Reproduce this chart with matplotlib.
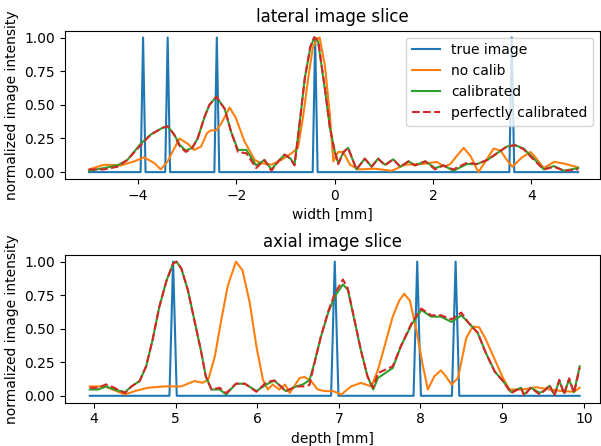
import numpy as np
import matplotlib
matplotlib.use("Agg")
import matplotlib.pyplot as plt

# ---- lateral slice (width in mm) ----
lat_spikes = [-3.9, -3.4, -2.4, -0.4, 3.6]
lat_range = [-5.0, 4.95]

lat_cal_x = [-5.0, -4.7, -4.42, -4.22, -3.95, -3.74, -3.5, -3.4, -3.27, -3.15, -3.03, -2.9,
             -2.79, -2.65, -2.55, -2.41, -2.24, -2.11, -1.97, -1.8, -1.6, -1.43, -1.29, -1.15,
             -1.02, -0.9, -0.82, -0.72, -0.61, -0.5, -0.42, -0.34, -0.2, -0.1, 0.0, 0.07, 0.18,
             0.27, 0.44, 0.61, 0.75, 0.88, 1.02, 1.19, 1.33, 1.5, 1.63, 1.84, 2.04, 2.21, 2.41,
             2.69, 2.89, 3.1, 3.3, 3.5, 3.67, 3.84, 4.05, 4.25, 4.46, 4.66, 4.95]
lat_cal_y = [0.01, 0.03, 0.05, 0.09, 0.21, 0.28, 0.33, 0.34, 0.28, 0.2, 0.16, 0.18,
             0.25, 0.41, 0.5, 0.56, 0.47, 0.3, 0.165, 0.165, 0.05, 0.09, 0.02, 0.08,
             0.13, 0.1, 0.055, 0.35, 0.7, 0.92, 1.0, 0.97, 0.61, 0.33, 0.15, 0.067, 0.15,
             0.18, 0.02, 0.1, 0.04, 0.1, 0.055, 0.095, 0.04, 0.08, 0.05, 0.08, 0.03, 0.05, 0.01,
             0.06, 0.06, 0.09, 0.14, 0.19, 0.2, 0.175, 0.1, 0.02, 0.045, 0.01, 0.03]
lat_perf_y = [0.02, 0.02, 0.04, 0.09, 0.2, 0.28, 0.33, 0.34, 0.28, 0.19, 0.15, 0.18,
              0.25, 0.41, 0.5, 0.56, 0.47, 0.3, 0.15, 0.14, 0.03, 0.09, 0.01, 0.08,
              0.13, 0.1, 0.05, 0.35, 0.7, 0.93, 1.0, 0.98, 0.62, 0.33, 0.15, 0.06, 0.15,
              0.18, 0.02, 0.1, 0.04, 0.1, 0.05, 0.095, 0.04, 0.08, 0.05, 0.08, 0.02, 0.05, 0.02,
              0.07, 0.06, 0.09, 0.14, 0.19, 0.2, 0.17, 0.09, 0.02, 0.04, 0.01, 0.02]

lat_nocal_x = [-5.0, -4.69, -4.35, -4.08, -3.88, -3.67, -3.54, -3.4, -3.16, -2.99, -2.86,
               -2.72, -2.6, -2.52, -2.41, -2.31, -2.14, -2.01, -1.84, -1.63, -1.5, -1.29,
               -1.09, -0.88, -0.75, -0.65, -0.54, -0.45, -0.37, -0.31, -0.2, -0.1, -0.03,
               0.07, 0.17, 0.31, 0.48, 0.82, 1.16, 1.43, 1.77, 2.07, 2.24, 2.35, 2.48, 2.62,
               2.76, 2.92, 3.1, 3.23, 3.37, 3.5, 3.61, 3.81, 3.98, 4.08, 4.25, 4.46, 4.66, 4.95]
lat_nocal_y = [0.02, 0.055, 0.05, 0.08, 0.11, 0.067, 0.02, 0.08, 0.25, 0.21, 0.165,
               0.19, 0.29, 0.31, 0.31, 0.36, 0.48, 0.4, 0.23, 0.09, 0.067, 0.055,
               0.09, 0.14, 0.18, 0.4, 0.7, 0.92, 0.99, 1.0, 0.79, 0.42, 0.08,
               0.15, 0.15, 0.055, 0.02, 0.025, 0.01, 0.055, 0.06, 0.076, 0.04, 0.06, 0.12, 0.18,
               0.12, 0.0, 0.1, 0.175, 0.16, 0.09, 0.04, 0.11, 0.15, 0.11, 0.03, 0.076, 0.064, 0.035]

# ---- axial slice (depth in mm) ----
ax_spikes = [4.97, 6.95, 7.96, 8.43]
ax_range = [3.95, 9.95]

ax_cal_x = [3.95, 4.05, 4.15, 4.25, 4.38, 4.46, 4.56, 4.64, 4.72, 4.8, 4.89, 4.97, 5.01,
            5.07, 5.15, 5.23, 5.31, 5.37, 5.44, 5.54, 5.62, 5.74, 5.85, 5.99, 6.11, 6.21,
            6.35, 6.48, 6.56, 6.64, 6.7, 6.78, 6.87, 6.95, 7.05, 7.11, 7.19, 7.27, 7.35,
            7.42, 7.48, 7.66, 7.76, 7.89, 8.01, 8.13, 8.25, 8.38, 8.5, 8.58, 8.7, 8.8,
            8.91, 9.01, 9.11, 9.23, 9.27, 9.35, 9.46, 9.52, 9.58, 9.64, 9.7, 9.76, 9.82,
            9.88, 9.95]
ax_cal_y = [0.047, 0.047, 0.07, 0.047, 0.027, 0.07, 0.11, 0.22, 0.42, 0.66, 0.86, 0.985, 1.0,
            0.95, 0.79, 0.565, 0.34, 0.146, 0.047, 0.047, 0.01, 0.09, 0.09, 0.035, 0.084, 0.113,
            0.035, 0.07, 0.085, 0.116, 0.245, 0.44, 0.62, 0.74, 0.83, 0.79, 0.565, 0.34, 0.146,
            0.047, 0.133, 0.207, 0.37, 0.53, 0.64, 0.59, 0.59, 0.55, 0.6, 0.55, 0.47, 0.32,
            0.18, 0.11, 0.027, 0.06, 0.01, 0.06, 0.022, 0.04, 0.075, 0.01, 0.11, 0.022, 0.12,
            0.027, 0.22]
ax_perf_y = [0.06, 0.06, 0.085, 0.06, 0.02, 0.07, 0.11, 0.22, 0.42, 0.66, 0.86, 0.985, 1.0,
             0.95, 0.79, 0.565, 0.34, 0.146, 0.047, 0.06, 0.02, 0.09, 0.09, 0.03, 0.1, 0.115,
             0.035, 0.07, 0.07, 0.08, 0.24, 0.44, 0.63, 0.76, 0.867, 0.8, 0.57, 0.34, 0.146,
             0.06, 0.17, 0.22, 0.37, 0.54, 0.65, 0.6, 0.6, 0.57, 0.62, 0.55, 0.47, 0.32,
             0.18, 0.11, 0.02, 0.06, 0.0, 0.06, 0.01, 0.04, 0.08, 0.0, 0.12, 0.01, 0.13,
             0.02, 0.21]

ax_nocal_x = [3.95, 4.13, 4.25, 4.38, 4.5, 4.66, 4.87, 5.07, 5.23, 5.33, 5.4, 5.48, 5.56,
              5.64, 5.74, 5.82, 5.91, 5.99, 6.07, 6.13, 6.19, 6.27, 6.34, 6.4, 6.52, 6.58,
              6.66, 6.74, 6.83, 6.93, 7.03, 7.15, 7.27, 7.4, 7.48, 7.56, 7.66, 7.74, 7.8,
              7.87, 7.95, 8.03, 8.09, 8.17, 8.25, 8.31, 8.38, 8.46, 8.56, 8.64, 8.72, 8.8,
              8.91, 9.01, 9.09, 9.25, 9.42, 9.58, 9.74, 9.88, 9.95]
ax_nocal_y = [0.07, 0.07, 0.042, 0.01, 0.035, 0.06, 0.07, 0.07, 0.11, 0.097, 0.12, 0.29, 0.565,
              0.82, 1.0, 0.935, 0.69, 0.37, 0.12, 0.047, 0.084, 0.047, 0.084, 0.022, 0.133, 0.14,
              0.11, 0.047, 0.035, 0.035, 0.01, 0.07, 0.096, 0.07, 0.195, 0.37, 0.59, 0.71, 0.76,
              0.71, 0.49, 0.22, 0.047, 0.146, 0.19, 0.146, 0.084, 0.133, 0.43, 0.516, 0.51, 0.42,
              0.27, 0.133, 0.047, 0.047, 0.064, 0.047, 0.035, 0.03, 0.06]


def spike_line(spikes, x_range, half=0.05):
    xs = [x_range[0]]
    ys = [0.0]
    for p in spikes:
        xs += [p - half, p, p + half]
        ys += [0.0, 1.0, 0.0]
    xs.append(x_range[1])
    ys.append(0.0)
    return xs, ys


fig = plt.figure(figsize=(6.01, 4.46), dpi=100)
ax1 = fig.add_axes([0.108, 0.599, 0.890, 0.332])
ax2 = fig.add_axes([0.108, 0.0975, 0.890, 0.331])

tx, ty = spike_line(lat_spikes, lat_range)
ax1.plot(tx, ty, label='true image')
ax1.plot(lat_nocal_x, lat_nocal_y, label='no calib')
ax1.plot(lat_cal_x, lat_cal_y, label='calibrated')
ax1.plot(lat_cal_x, lat_perf_y, '--', label='perfectly calibrated')
ax1.set_xlim(-5.49, 5.39)
ax1.set_ylim(-0.05, 1.05)
ax1.set_title('lateral image slice')
ax1.set_xlabel('width [mm]')
ax1.set_ylabel('normalized image intensity')
ax1.legend(loc='upper right')

tx, ty = spike_line(ax_spikes, ax_range, half=0.045)
ax2.plot(tx, ty)
ax2.plot(ax_nocal_x, ax_nocal_y)
ax2.plot(ax_cal_x, ax_cal_y)
ax2.plot(ax_cal_x, ax_perf_y, '--')
ax2.set_xlim(3.645, 10.196)
ax2.set_ylim(-0.05, 1.05)
ax2.set_title('axial image slice')
ax2.set_xlabel('depth [mm]')
ax2.set_ylabel('normalized image intensity')

fig.savefig('out.png')
